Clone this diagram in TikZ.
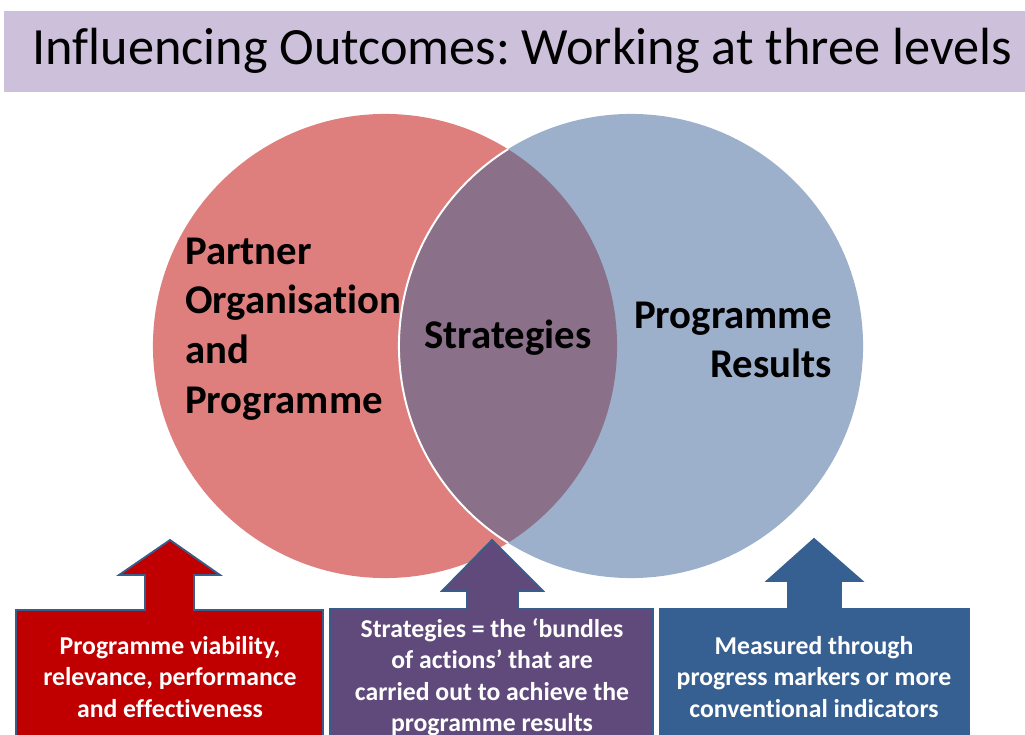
\documentclass[tikz,border=0pt]{standalone}
\usepackage{fontspec}
\setmainfont{Carlito}[Ligatures=NoCommon]
\usetikzlibrary{positioning}
\definecolor{bandlilac}{RGB}{204,192,218}
\definecolor{orgred}{RGB}{223,127,125}
\definecolor{resblue}{RGB}{156,176,203}
\definecolor{midmauve}{RGB}{138,112,137}
\definecolor{boxred}{RGB}{192,0,0}
\definecolor{boxplum}{RGB}{96,74,123}
\definecolor{boxblue}{RGB}{55,96,146}
\definecolor{edgeblue}{RGB}{56,93,138}
\tikzset{
  venntext/.style={font=\fontsize{29}{35.4}\selectfont\bfseries, text=black, inner sep=0pt},
  boxtext/.style={font=\fontsize{18.3}{22.4}\selectfont\bfseries, text=white,
    align=center, inner sep=0pt},
  callout/.style={draw=edgeblue, line width=1.3pt, line join=miter}
}
\frenchspacing

\begin{document}
\begin{tikzpicture}[x=0.025cm, y=-0.025cm]
  \clip (0,0) rectangle (1025,735);
  \fill[white] (0,0) rectangle (1025,735);

  % Title band
  \fill[bandlilac] (4,11) rectangle (1045,92);
  \node[font=\fontsize{37.2}{40}\selectfont, anchor=base, inner sep=0pt] (title) at (522,65)
    {Influencing Outcomes: Working at three levels};

  % Venn circles
  \fill[orgred] (385,346) circle (5.8cm);
  \fill[resblue] (631,346) circle (5.8cm);
  \begin{scope}
    \clip (385,346) circle (5.8cm);
    \fill[midmauve] (631,346) circle (5.8cm);
    \draw[white, line width=1.4pt] (631,346) circle (5.8cm);
  \end{scope}

  \node[venntext, anchor=west, align=left] (partner) at (185,329)
    {Partner\\Organisation\\and\\Programme};
  \node[venntext] (strat) at (508,338) {Strategies};
  \node[venntext, anchor=east, align=right] (results) at (832,340)
    {Programme\\Results};

  % Callout boxes
  \path[callout, fill=boxred] (16,745) -- (16,610) -- (145,610) -- (145,575) -- (119,575)
    -- (170,540) -- (220,575) -- (194,575) -- (194,610) -- (323,610) -- (323,745) -- cycle;
  \path[callout, fill=boxplum] (330,745) -- (330,609) -- (467,609) -- (467,591) -- (442,591)
    -- (492,540) -- (543,591) -- (518,591) -- (518,609) -- (653,609) -- (653,745) -- cycle;
  \path[callout, draw=boxblue, fill=boxblue] (660,745) -- (660,609) -- (788,609) -- (788,581)
    -- (767,581) -- (814,539) -- (862,581) -- (841,581) -- (841,609) -- (969,609) -- (969,745) -- cycle;

  \node[boxtext] (viability) at (170,677)
    {Programme viability,\\relevance, performance\\and effectiveness};
  \node[boxtext] (bundles) at (492,677)
    {Strategies = the `bundles\\of actions' that are\\carried out to achieve the\\programme results};
  \node[boxtext] (measures) at (814,677)
    {Measured through\\progress markers or more\\conventional indicators};
\end{tikzpicture}
\end{document}
